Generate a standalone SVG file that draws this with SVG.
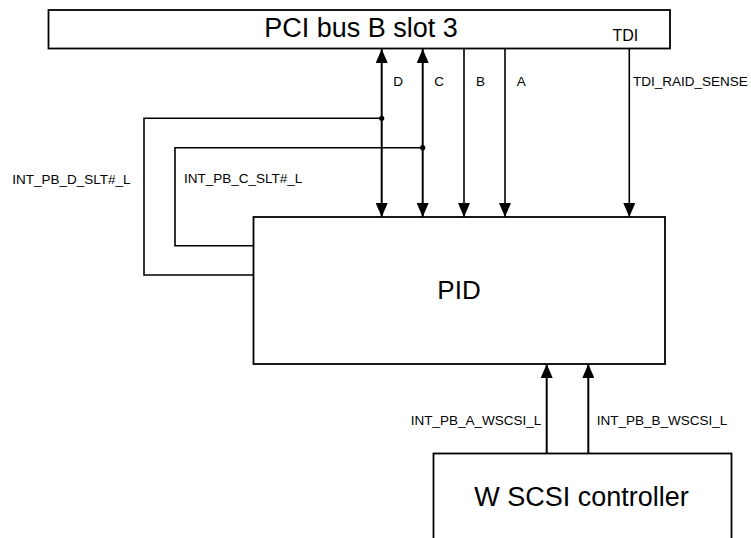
<svg xmlns="http://www.w3.org/2000/svg" width="751" height="538" viewBox="0 0 751 538">
<style>
  .box { fill: #fff; stroke: #000; stroke-width: 1.8; }
  .big { font-family: "Liberation Sans", Arial, sans-serif; font-size: 27px; fill: #000; }
  .sm { font-family: "Liberation Sans", Arial, sans-serif; font-size: 13.5px; fill: #000; }
  .wire { fill: none; stroke: #000; stroke-width: 1.6; }
  .bus { fill: none; stroke: #000; stroke-width: 2; }
</style>
<defs>
  <marker id="ah" viewBox="0 0 14 12" refX="14" refY="6" markerWidth="14" markerHeight="12" markerUnits="userSpaceOnUse" orient="auto-start-reverse">
    <path d="M0,0 L14,6 L0,12 z" fill="#000"/>
  </marker>
</defs>
<g id="pci">
  <rect class="box" x="48.5" y="10" width="621.5" height="38.5"/>
  <text class="big" x="361" y="37" text-anchor="middle">PCI bus B slot 3</text>
  <text class="sm" x="612.5" y="41" style="font-size:16px">TDI</text>
</g>
<g id="pid">
  <rect class="box" x="253.5" y="217" width="411.5" height="147"/>
  <text class="big" x="459" y="298.5" text-anchor="middle" style="font-size:26px">PID</text>
</g>
<g id="wscsi">
  <rect class="box" x="433.5" y="453.5" width="298" height="100"/>
  <text class="big" x="581.5" y="506" text-anchor="middle">W SCSI controller</text>
</g>
<g id="connectors">
  <path class="bus" d="M381.7,49 V217" marker-start="url(#ah)" marker-end="url(#ah)"/>
  <path class="bus" d="M422.7,49 V217" marker-start="url(#ah)" marker-end="url(#ah)"/>
  <path class="wire" d="M464,49 V217" marker-end="url(#ah)"/>
  <path class="wire" d="M505,49 V217" marker-end="url(#ah)"/>
  <path class="wire" d="M629.3,49 V217" marker-end="url(#ah)"/>
  <path class="wire" d="M381.7,118.3 H144 V275 H253.5"/>
  <path class="wire" d="M422.7,147.7 H175 V245.7 H253.5"/>
  <circle cx="381.7" cy="118.3" r="2.6" fill="#000"/>
  <circle cx="422.7" cy="147.7" r="2.6" fill="#000"/>
  <path class="bus" d="M546.7,453.5 V364" marker-end="url(#ah)"/>
  <path class="bus" d="M588.3,453.5 V364" marker-end="url(#ah)"/>
  <text class="sm" x="393.3" y="86">D</text>
  <text class="sm" x="434.3" y="86">C</text>
  <text class="sm" x="476" y="86">B</text>
  <text class="sm" x="516.7" y="86">A</text>
  <text class="sm" x="633" y="86">TDI_RAID_SENSE</text>
  <text class="sm" x="12.3" y="184">INT_PB_D_SLT#_L</text>
  <text class="sm" x="184" y="182.7">INT_PB_C_SLT#_L</text>
  <text class="sm" x="410.7" y="425">INT_PB_A_WSCSI_L</text>
  <text class="sm" x="596.7" y="425">INT_PB_B_WSCSI_L</text>
</g>
</svg>
